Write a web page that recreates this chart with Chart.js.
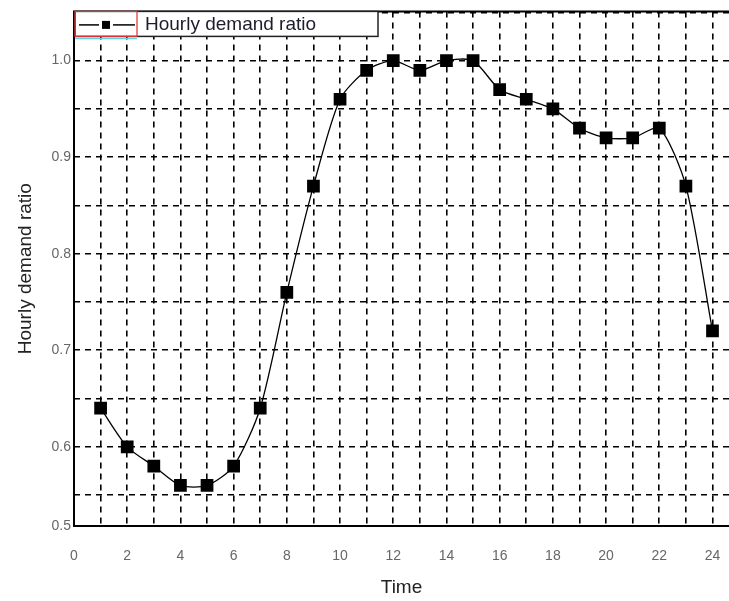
<!DOCTYPE html>
<html>
<head>
<meta charset="utf-8">
<script src="https://cdn.jsdelivr.net/npm/chart.js@4"></script>
<style>
  html, body { margin: 0; padding: 0; background: #fff; overflow: hidden; }
</style>
</head>
<body>
<canvas id="demandChart" width="729" height="601"></canvas>
<script>
const hours = [1, 2, 3, 4, 5, 6, 7, 8, 9, 10, 11, 12, 13, 14, 15, 16, 17, 18, 19, 20, 21, 22, 23, 24];
const demandRatio = [0.64, 0.60, 0.58, 0.56, 0.56, 0.58, 0.64, 0.76, 0.87, 0.96, 0.99, 1.00,
                     0.99, 1.00, 1.00, 0.97, 0.96, 0.95, 0.93, 0.92, 0.92, 0.93, 0.87, 0.72];
const yTicks = [0.55, 0.6, 0.65, 0.7, 0.75, 0.8, 0.85, 0.9, 0.95, 1.0, 1.05];
const yLabelled = [0.6, 0.7, 0.8, 0.9, 1.0];
const seriesName = "Hourly demand ratio";

const Y_MIN = 0.518, Y_MAX = 1.051;
const X_MAX = 24.62; // plot runs off the right edge

// solid frame on left, top and bottom of the plot area
const frame = {
  id: "frame",
  afterDatasetsDraw(chart) {
    const a = chart.chartArea, c = chart.ctx;
    c.save();
    c.strokeStyle = "#000";
    c.lineWidth = 2;
    c.beginPath();
    c.moveTo(a.right + 2, a.top);
    c.lineTo(a.left, a.top);
    c.lineTo(a.left, a.bottom);
    c.lineTo(a.right + 2, a.bottom);
    c.stroke();
    c.restore();
  }
};

// boxed legend in the top-left corner
const boxLegend = {
  id: "boxLegend",
  afterDraw(chart) {
    const c = chart.ctx, a = chart.chartArea;
    const x = a.left + 1, y = a.top, w = 303, h = 25;
    c.save();
    c.fillStyle = "#fff";
    c.fillRect(x, y, w, h);
    c.strokeStyle = "#222";
    c.lineWidth = 1.5;
    c.strokeRect(x, y, w, h);
    c.strokeStyle = "#e03030";
    c.lineWidth = 1.2;
    c.strokeRect(x, y, 62, h);
    c.strokeStyle = "#5fd6e0";
    c.lineWidth = 1.5;
    c.beginPath(); c.moveTo(x, y + h + 2); c.lineTo(x + 62, y + h + 2); c.stroke();
    const my = y + h / 2 + 1;
    c.strokeStyle = "#000";
    c.lineWidth = 1.5;
    c.beginPath(); c.moveTo(x + 4, my); c.lineTo(x + 24, my); c.stroke();
    c.beginPath(); c.moveTo(x + 38, my); c.lineTo(x + 60, my); c.stroke();
    c.fillStyle = "#000";
    c.fillRect(x + 27, my - 4, 8, 8);
    c.fillStyle = "#1c1c2c";
    c.font = "19px 'Liberation Sans', Arial, sans-serif";
    c.textBaseline = "middle";
    c.fillText(seriesName, x + 70, my);
    c.restore();
  }
};

const chart = new Chart(document.getElementById("demandChart"), {
  type: "line",
  data: {
    labels: hours,
    datasets: [{
      label: seriesName,
      data: hours.map((h, i) => ({ x: h, y: demandRatio[i] })),
      borderColor: "#000",
      borderWidth: 1.3,
      tension: 0.25,
      pointStyle: "rect",
      pointRadius: 9,
      pointBackgroundColor: "#000",
      pointBorderColor: "#000",
      pointBorderWidth: 0
    }]
  },
  plugins: [frame, boxLegend],
  options: {
    responsive: false,
    animation: false,
    layout: { autoPadding: false, padding: { top: 8, left: 0, right: 0, bottom: 0 } },
    plugins: { legend: { display: false }, tooltip: { enabled: false } },
    scales: {
      x: {
        type: "linear",
        min: 0,
        max: X_MAX,
        afterBuildTicks(axis) {
          axis.ticks = [];
          for (let v = 0; v <= 24; v++) axis.ticks.push({ value: v });
        },
        afterFit(axis) { axis.height = 75; },
        // invisible tick length keeps the labels low without side padding
        grid: { color: "#000", lineWidth: 1.6, drawTicks: true, tickLength: 20, tickColor: "rgba(0,0,0,0)" },
        border: { display: false, dash: [6, 5] },
        ticks: {
          autoSkip: false,
          maxRotation: 0,
          padding: 2,
          color: "#666",
          font: { family: "'Liberation Sans', Arial, sans-serif", size: 14 },
          callback: v => (v % 2 === 0 ? String(v) : "")
        },
        title: {
          display: true,
          text: "Time",
          color: "#222",
          font: { family: "'Liberation Sans', Arial, sans-serif", size: 19 },
          padding: { top: 0, bottom: 2 }
        }
      },
      y: {
        type: "linear",
        min: Y_MIN,
        max: Y_MAX,
        afterBuildTicks(axis) {
          axis.ticks = [{ value: Y_MIN }].concat(yTicks.map(v => ({ value: v })));
        },
        afterFit(axis) { axis.width = 74; },
        grid: { color: "#000", lineWidth: 1.6, drawTicks: false },
        border: { display: false, dash: [6, 5] },
        ticks: {
          autoSkip: false,
          padding: 3,
          color: "#666",
          font: { family: "'Liberation Sans', Arial, sans-serif", size: 14 },
          callback: v => {
            if (v === Y_MIN) return "0.5";
            const hit = yLabelled.find(t => Math.abs(t - v) < 1e-6);
            return hit !== undefined ? hit.toFixed(1) : "";
          }
        },
        title: {
          display: true,
          text: "Hourly demand ratio",
          color: "#222",
          font: { family: "'Liberation Sans', Arial, sans-serif", size: 19 },
          padding: { top: 14, bottom: 0 }
        }
      }
    }
  }
});
</script>
</body>
</html>
